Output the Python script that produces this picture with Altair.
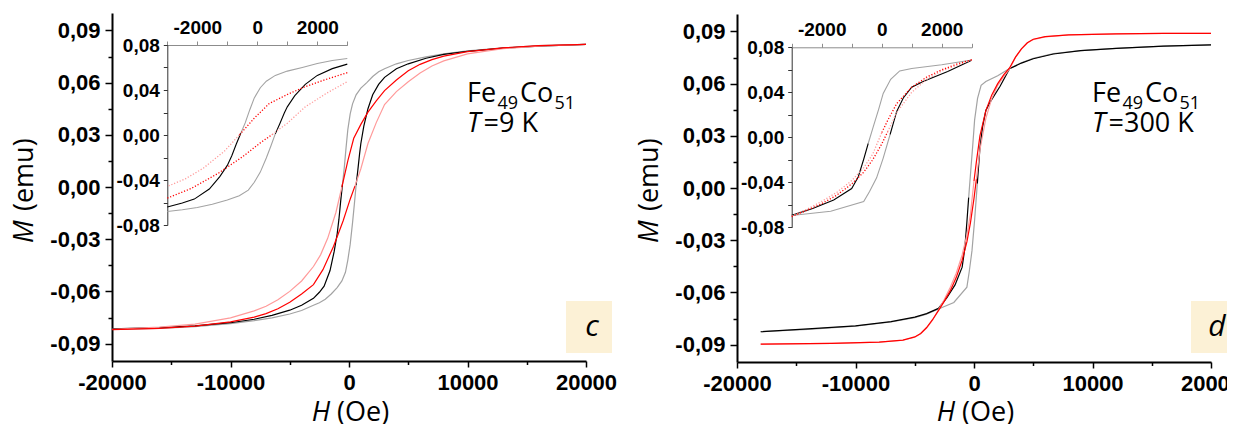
import altair as alt
import pandas as pd

# ---------------- data: H (Oe), M (emu) ----------------
# Panel c: Fe49Co51, T = 9 K
C_BK_DOWN_H = [20000, 16000, 13000, 10000, 8000, 6500, 5000, 4000, 3000, 2500, 2000, 1500, 1000, 600, 300, 100,
               -100, -250, -400, -550, -700, -850, -1000, -1250, -1600, -2100, -2500, -3000, -4000, -5000, -6500,
               -8000, -10000, -13000, -16000, -20000]
C_BK_DOWN_M = [0.0820, 0.0812, 0.0800, 0.0782, 0.0765, 0.0748, 0.0727, 0.0708, 0.0680, 0.0662, 0.0635, 0.0600,
               0.0568, 0.0530, 0.0478, 0.0420, 0.0330, 0.0225, 0.0110, 0.0015, -0.0080, -0.0185, -0.0270, -0.0370,
               -0.0480, -0.0570, -0.0605, -0.0640, -0.0680, -0.0708, -0.0738, -0.0760, -0.0780, -0.0798, -0.0808,
               -0.0815]
C_BK_UP_H = [-20000, -16000, -13000, -10000, -8000, -6500, -5000, -4000, -3000, -2500, -2000, -1500, -1000, -600,
             -300, -100, 100, 300, 450, 600, 750, 900, 1000, 1250, 1600, 2000, 2500, 3000, 4000, 5000, 6500, 8000,
             10000, 13000, 16000, 20000]
C_BK_UP_M = [-0.0818, -0.0812, -0.0802, -0.0785, -0.0768, -0.0752, -0.0730, -0.0710, -0.0680, -0.0665, -0.0645,
             -0.0615, -0.0578, -0.0540, -0.0490, -0.0420, -0.0330, -0.0205, -0.0100, 0.0010, 0.0100, 0.0195, 0.0250,
             0.0350, 0.0450, 0.0530, 0.0590, 0.0630, 0.0680, 0.0708, 0.0740, 0.0762, 0.0780, 0.0798, 0.0810, 0.0820]
C_RD_DOWN_H = [20000, 16000, 13000, 10000, 8000, 7000, 6000, 5000, 4000, 3000, 2300, 1600, 1000, 400, -100, -600,
               -1100, -1800, -2400, -3000, -4000, -5000, -6000, -7000, -8000, -10000, -13000, -16000, -20000]
C_RD_DOWN_M = [0.0820, 0.0812, 0.0800, 0.0778, 0.0752, 0.0732, 0.0705, 0.0668, 0.0615, 0.0554, 0.0495, 0.0430,
               0.0360, 0.0280, 0.0150, 0.0000, -0.0145, -0.0295, -0.0390, -0.0457, -0.0540, -0.0600, -0.0648,
               -0.0685, -0.0712, -0.0752, -0.0788, -0.0805, -0.0818]
C_RD_UP_H = [-20000, -16000, -13000, -10000, -8000, -7000, -6000, -5000, -4000, -3000, -2200, -1300, -500, 100, 500,
             1000, 1600, 2300, 3000, 4000, 5000, 6000, 7000, 8000, 10000, 13000, 16000, 20000]
C_RD_UP_M = [-0.0820, -0.0812, -0.0800, -0.0775, -0.0748, -0.0728, -0.0700, -0.0662, -0.0615, -0.0561, -0.0475,
             -0.0340, -0.0195, -0.0070, 0.0005, 0.0105, 0.0250, 0.0370, 0.0474, 0.0548, 0.0605, 0.0655, 0.0695,
             0.0725, 0.0765, 0.0795, 0.0810, 0.0820]

# Panel d: Fe49Co51, T = 300 K
D_BK_DOWN_H = [20000, 16000, 12000, 9000, 6700, 5000, 4000, 3000, 2000, 1000, 600, 300, 50, -100, -280, -450, -600,
               -780, -1000, -1600, -2300, -3000, -4000, -5000, -7000, -10000, -14000, -18000]
D_BK_DOWN_M = [0.0822, 0.0815, 0.0803, 0.0790, 0.0772, 0.0745, 0.0720, 0.0687, 0.0645, 0.0612, 0.0590, 0.0515,
               0.0390, 0.0250, 0.0095, -0.0055, -0.0195, -0.0350, -0.0455, -0.0557, -0.0632, -0.0692, -0.0722,
               -0.0742, -0.0768, -0.0792, -0.0810, -0.0826]
D_BK_UP_H = [-18000, -14000, -10000, -7000, -5000, -4000, -3000, -1700, -600, -400, -170, 50, 280, 500, 720, 1000,
             1400, 2200, 3000, 4000, 5000, 6700, 9000, 12000, 16000, 20000]
D_BK_UP_M = [-0.0826, -0.0812, -0.0794, -0.0770, -0.0745, -0.0725, -0.0695, -0.0658, -0.0570, -0.0480, -0.0360,
             -0.0185, 0.0025, 0.0230, 0.0350, 0.0445, 0.0498, 0.0585, 0.0685, 0.0718, 0.0743, 0.0770, 0.0790,
             0.0803, 0.0815, 0.0822]
D_RD_DOWN_H = [20000, 16000, 12000, 8000, 6000, 5000, 4500, 4000, 3500, 3000, 2500, 2000, 1500, 1000, 500, 200, 0,
               -300, -600, -1000, -1500, -2000, -2500, -3000, -3500, -4000, -4500, -5000, -6000, -8000, -12000, -18000]
D_RD_DOWN_M = [0.0889, 0.0889, 0.0886, 0.0880, 0.0870, 0.0855, 0.0835, 0.0800, 0.0752, 0.0690, 0.0650, 0.0600,
               0.0535, 0.0445, 0.0300, 0.0150, 0.0040, -0.0150, -0.0270, -0.0385, -0.0490, -0.0570, -0.0640,
               -0.0700, -0.0760, -0.0805, -0.0838, -0.0858, -0.0875, -0.0886, -0.0893, -0.0897]
D_RD_UP_H = [-18000, -12000, -8000, -6000, -5000, -4500, -4000, -3500, -3000, -2500, -2000, -1500, -1000, -600, -300,
             0, 200, 500, 1000, 1500, 2000, 2500, 3000, 3500, 4000, 4500, 5000, 6000, 8000, 12000, 16000, 20000]
D_RD_UP_M = [-0.0897, -0.0893, -0.0886, -0.0874, -0.0856, -0.0836, -0.0802, -0.0757, -0.0705, -0.0650, -0.0590,
             -0.0515, -0.0415, -0.0310, -0.0200, -0.0060, 0.0050, 0.0220, 0.0400, 0.0515, 0.0590, 0.0640, 0.0685,
             0.0750, 0.0798, 0.0833, 0.0853, 0.0869, 0.0880, 0.0886, 0.0889, 0.0889]

# tick values
X_MAIN_TICKS = [-20000, -15000, -10000, -5000, 0, 5000, 10000, 15000, 20000]
Y_MAIN_TICKS = [-0.09, -0.075, -0.06, -0.045, -0.03, -0.015, 0.0, 0.015, 0.03, 0.045, 0.06, 0.075, 0.09]
X_INSET_TICKS = [-3000, -2000, -1000, 0, 1000, 2000, 3000]
Y_INSET_TICKS = [-0.08, -0.06, -0.04, -0.02, 0.0, 0.02, 0.04, 0.06, 0.08]

# ---------------- styles ----------------
COLORS = {"gray": "#a3a3a3", "black": "#000000", "pink": "#ff9a9a", "red": "#ff0000"}
TICK_FONT = "Liberation Sans"
TEXT_FONT = "Open Sans"


def seg_color(loop, branch, m):
    if loop == "bk":
        if branch == "down":
            return "gray" if m > 0 else "black"
        return "black" if m > 0 else "gray"
    if branch == "down":
        return "red" if m > 0 else "pink"
    return "pink" if m > 0 else "red"


def build(panel, branches):
    rows = []
    for loop, branch, H, M in branches:
        if len(H) != len(M):
            raise ValueError(f"length mismatch {panel} {loop} {branch}: {len(H)} vs {len(M)}")
        runs = []
        for i in range(len(H) - 1):
            c = seg_color(loop, branch, (M[i] + M[i + 1]) / 2)
            if runs and runs[-1][0] == c:
                runs[-1][1].append(i + 1)
            else:
                runs.append([c, [i, i + 1]])
        for k, (c, idx) in enumerate(runs):
            for j, i in enumerate(idx):
                rows.append(dict(run=f"{panel}-{loop}-{branch}-{k}", cname=c, color=COLORS[c],
                                 H=H[i], M=M[i], ord=j))
    return pd.DataFrame(rows)


df_c = build("c", [("bk", "down", C_BK_DOWN_H, C_BK_DOWN_M), ("bk", "up", C_BK_UP_H, C_BK_UP_M),
                   ("rd", "down", C_RD_DOWN_H, C_RD_DOWN_M), ("rd", "up", C_RD_UP_H, C_RD_UP_M)])
df_d = build("d", [("bk", "down", D_BK_DOWN_H, D_BK_DOWN_M), ("bk", "up", D_BK_UP_H, D_BK_UP_M),
                   ("rd", "down", D_RD_DOWN_H, D_RD_DOWN_M), ("rd", "up", D_RD_UP_H, D_RD_UP_M)])

Y_MAIN_LABEL = ("abs(round(datum.value / 0.015)) % 2 == 0 ? (datum.value < 0 ? '-' : '') + "
                "replace(format(abs(datum.value), '.2f'), '.', ',') : ''")
Y_INSET_LABEL = ("abs(round(datum.value / 0.02)) % 2 == 0 ? (datum.value < 0 ? '-' : '') + "
                 "replace(format(abs(datum.value), '.2f'), '.', ',') : ''")
X_MAIN_LABEL = "abs(datum.value) % 10000 == 0 ? (datum.value < 0 ? '-' : '') + format(abs(datum.value), 'd') : ''"
X_INSET_LABEL = ("abs(datum.value) % 2000 == 0 && abs(datum.value) <= 2000 ? "
                 "(datum.value < 0 ? '-' : '') + format(abs(datum.value), 'd') : ''")


def main_x_axis(offset):
    return alt.Axis(values=X_MAIN_TICKS, orient="bottom", offset=offset, labelExpr=X_MAIN_LABEL,
                    labelFont=TICK_FONT, labelFontWeight="bold", labelFontSize=22, labelColor="black",
                    labelPadding=5, labelFlush=False, labelOverlap=False, grid=False, title=None,
                    tickSize={"condition": {"test": "abs(datum.value) % 10000 != 0", "value": 3.5}, "value": 6},
                    tickColor="black", tickWidth=1.5, domainColor="black", domainWidth=2)


def main_y_axis(offset):
    return alt.Axis(values=Y_MAIN_TICKS, orient="left", offset=offset, labelExpr=Y_MAIN_LABEL,
                    labelFont=TICK_FONT, labelFontWeight="bold", labelFontSize=22, labelColor="black",
                    labelPadding=5, labelFlush=False, labelOverlap=False, grid=False, title=None,
                    tickSize={"condition": {"test": "abs(round(datum.value / 0.015)) % 2 == 1", "value": 4},
                              "value": 7},
                    tickColor="black", tickWidth=1.5, domainColor="black", domainWidth=2)


def inset_x_axis(offset):
    return alt.Axis(values=X_INSET_TICKS, orient="top", offset=offset, labelExpr=X_INSET_LABEL,
                    labelFont=TICK_FONT, labelFontWeight="bold", labelFontSize=19, labelColor="black",
                    labelBaseline="alphabetic", labelPadding=8, labelFlush=False, labelOverlap=False,
                    grid=False, title=None, tickSize=4, tickColor="#8c8c8c", tickWidth=1,
                    domainColor="#8c8c8c", domainWidth=1)


def inset_y_axis(offset):
    return alt.Axis(values=Y_INSET_TICKS, orient="left", offset=offset, labelExpr=Y_INSET_LABEL,
                    labelFont=TICK_FONT, labelFontWeight="bold", labelFontSize=19, labelColor="black",
                    labelPadding=4, labelFlush=False, labelOverlap=False, grid=False, title=None,
                    tickSize=4, tickColor="#333333", tickWidth=1, domainColor="#333333", domainWidth=1)


def line_layer(data, cname, xscale, yscale, xaxis, yaxis, width, dash=None, inset=False):
    filt = f"datum.cname == '{cname}'"
    if inset:
        filt += " && datum.H >= -3000 && datum.H <= 3000"
    kw = dict(strokeWidth=width, interpolate="linear")
    if dash:
        kw["strokeDash"] = dash
    return alt.Chart(data).transform_filter(filt).mark_line(**kw).encode(
        x=alt.X("H:Q", scale=xscale, axis=xaxis),
        y=alt.Y("M:Q", scale=yscale, axis=yaxis),
        color=alt.Color("color:N", scale=None),
        detail="run:N",
        order="ord:Q",
    )


def panel(data, px0, py0, ix0, iy0, height):
    # main plot area: x px0..px0+474, y py0..py0+348 ; inset: x ix0..ix0+180, y iy0..iy0+180
    mx = alt.Scale(domain=[-20000, 20000], range=[px0, px0 + 474], nice=False, zero=False)
    my = alt.Scale(domain=[-0.1, 0.1], range=[py0 + 348, py0], nice=False, zero=False)
    ix = alt.Scale(domain=[-3000, 3000], range=[ix0, ix0 + 180], nice=False, zero=False)
    iy = alt.Scale(domain=[-0.08, 0.08], range=[iy0 + 180, iy0], nice=False, zero=False)
    return [
        line_layer(data, "gray", mx, my, main_x_axis(py0 + 348 - height), main_y_axis(-px0), 1.2),
        line_layer(data, "black", mx, my, None, None, 1.2),
        line_layer(data, "pink", mx, my, None, None, 1.2),
        line_layer(data, "red", mx, my, None, None, 1.2),
        line_layer(data, "gray", ix, iy, inset_x_axis(-iy0), inset_y_axis(-ix0), 1.1, inset=True),
        line_layer(data, "black", ix, iy, None, None, 1.1, inset=True),
        line_layer(data, "pink", ix, iy, None, None, 1.3, dash=[1.2, 1.8], inset=True),
        line_layer(data, "red", ix, iy, None, None, 1.3, dash=[1.2, 1.8], inset=True),
    ]


W, HGT = 1219, 416
layers = panel(df_c, 104, 5, 159.3, 37, HGT) + panel(df_d, 729, 6, 783.7, 39.3, HGT)

ONE = pd.DataFrame({"k": [0]})


def label(text, x, y, size, style="normal", angle=0, align="left", font=TEXT_FONT):
    return alt.Chart(ONE).mark_text(text=text, font=font, fontSize=size, fontStyle=style, angle=angle,
                                    align=align, baseline="alphabetic", color="black").encode(
        x=alt.value(x), y=alt.value(y))


def box(x, x2, y, y2):
    return alt.Chart(ONE).mark_rect(color="#fcf1d6").encode(
        x=alt.value(x), x2=alt.value(x2), y=alt.value(y), y2=alt.value(y2))


annots = []
for dx, temp, letter in [(0, "=9 K", "c"), (625, "=300 K", "d")]:
    annots += [
        box(558 + dx, min(604 + dx, W), 293, 345),
        label(letter, 584 + dx, 328, 30, style="italic", align="center"),
        label("M", 25 + dx, 235, 27, style="italic", angle=270),
        label("(emu)", 25 + dx, 203, 27, angle=270),
        label("H", 303.7 + dx, 413, 27, style="italic"),
        label("(Oe)", 329 + dx, 413, 27),
        label("Fe", 459 + dx, 94, 27),
        label("49", 489.5 + dx, 101, 18),
        label("Co", 512 + dx, 94, 27),
        label("51", 546.5 + dx, 101, 18),
        label("T", 459 + dx, 124, 27, style="italic"),
        label(temp, 475.5 + dx, 124, 27),
    ]

chart = alt.layer(*layers, *annots).resolve_scale(
    x="independent", y="independent"
).resolve_axis(
    x="independent", y="independent"
).properties(
    width=W, height=HGT, autosize=alt.AutoSizeParams(type="none"), padding=0
).configure_view(stroke=None)

chart.save("out.html", embed_options={"renderer": "svg", "actions": False})
